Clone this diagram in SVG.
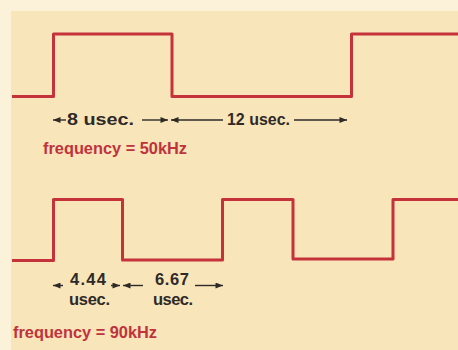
<svg xmlns="http://www.w3.org/2000/svg" width="458" height="350" viewBox="0 0 458 350">
<defs>
<style>
.wave{fill:none;stroke:#c6323a;stroke-width:3;stroke-linejoin:round}
.dim{stroke:#2e2a28;stroke-width:1.4;fill:none}
.lbl{font-family:"Liberation Sans",Arial,sans-serif;font-weight:bold;font-size:16.5px;fill:#2e2a28}
.freq{font-family:"Liberation Sans",Arial,sans-serif;font-weight:bold;font-size:16.5px;fill:#c0323c}
</style>
<marker id="ah" viewBox="0 0 10 8" refX="10" refY="4" markerWidth="9" markerHeight="6" markerUnits="userSpaceOnUse" orient="auto">
<path d="M0,0 L10,4 L0,8 Z" fill="#2e2a28"/>
</marker>
</defs>
<rect x="0" y="0" width="458" height="350" fill="#fcf2da"/>
<rect x="11" y="11" width="447" height="339" fill="#f9e5ba"/>
<g id="waveform-50khz">
<path class="wave" d="M12,96.5 H53.5 V34 H172 V96.5 H351.5 V34 H458"/>
</g>
<g id="waveform-90khz">
<path class="wave" d="M12,260.5 H53.5 V199.5 H122.5 V260 H222.5 V199.5 H293 V259 H393 V199.5 H458"/>
</g>
<g id="connectors">
<line class="dim" x1="66" y1="120" x2="53" y2="120" marker-end="url(#ah)"/>
<line class="dim" x1="142" y1="120" x2="168" y2="120" marker-end="url(#ah)"/>
<line class="dim" x1="223" y1="120" x2="171" y2="120" marker-end="url(#ah)"/>
<line class="dim" x1="294" y1="120" x2="347" y2="120" marker-end="url(#ah)"/>
<line class="dim" x1="63" y1="285.5" x2="53" y2="285.5" marker-end="url(#ah)"/>
<line class="dim" x1="111" y1="285.5" x2="120" y2="285.5" marker-end="url(#ah)"/>
<line class="dim" x1="143" y1="285.5" x2="123" y2="285.5" marker-end="url(#ah)"/>
<line class="dim" x1="195" y1="285.5" x2="223" y2="285.5" marker-end="url(#ah)"/>
</g>
<g id="labels-50khz">
<text class="lbl" x="67" y="125" textLength="67" lengthAdjust="spacingAndGlyphs">8 usec.</text>
<text class="lbl" x="227" y="125" textLength="63" lengthAdjust="spacingAndGlyphs">12 usec.</text>
<text class="freq" x="43" y="154" textLength="144" lengthAdjust="spacingAndGlyphs">frequency = 50kHz</text>
</g>
<g id="labels-90khz">
<text class="lbl" x="70" y="285" textLength="36">4.44</text>
<text class="lbl" x="69" y="305" textLength="41">usec.</text>
<text class="lbl" x="155" y="285" textLength="34">6.67</text>
<text class="lbl" x="153" y="305" textLength="40">usec.</text>
<text class="freq" x="13" y="338" textLength="144" lengthAdjust="spacingAndGlyphs">frequency = 90kHz</text>
</g>
</svg>
